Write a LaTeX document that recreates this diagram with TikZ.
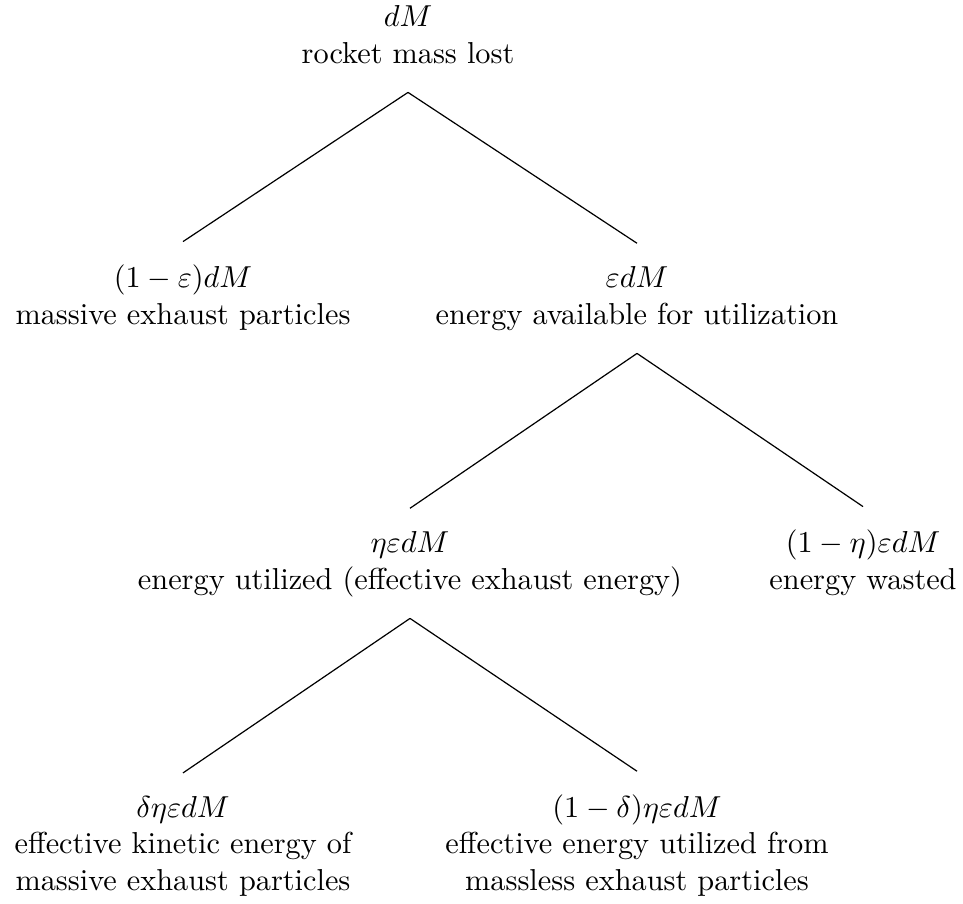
\documentclass[tikz,border=0pt]{standalone}
\usetikzlibrary{positioning}

\begin{document}
\begin{tikzpicture}[x=0.33pt,y=-0.33pt,
	every node/.style={align=center,inner sep=0pt,anchor=base},
	branch/.style={draw,thin}]
	\useasboundingbox (0,0) rectangle (963,903);

	\node (lost) at (408,63) {$dM$\\rocket mass lost};
	\node (massive) at (183,324) {$(1-\varepsilon)dM$\\massive exhaust particles};
	\node (avail) at (637,324) {$\varepsilon dM$\\energy available for utilization};
	\node (used) at (410,589) {$\eta\varepsilon dM$\\energy utilized (effective exhaust energy)};
	\node (wasted) at (863,589) {$(1-\eta)\varepsilon dM$\\energy wasted};
	\node (kinetic) at (183,890) {$\delta\eta\varepsilon dM$\\effective kinetic energy of\\massive exhaust particles};
	\node (massless) at (637,890) {$(1-\delta)\eta\varepsilon dM$\\effective energy utilized from\\massless exhaust particles};

	\path[branch] ([yshift=-9.7pt]lost.base) -- ([yshift=7.5pt]massive.north);
	\path[branch] ([yshift=-9.7pt]lost.base) -- ([yshift=7.5pt]avail.north);
	\path[branch] ([yshift=-9.7pt]avail.base) -- ([yshift=7.5pt]used.north);
	\path[branch] ([yshift=-9.7pt]avail.base) -- ([yshift=7.5pt]wasted.north);
	\path[branch] ([yshift=-9.7pt]used.base) -- ([yshift=7.5pt]kinetic.north);
	\path[branch] ([yshift=-9.7pt]used.base) -- ([yshift=7.5pt]massless.north);
\end{tikzpicture}
\end{document}
